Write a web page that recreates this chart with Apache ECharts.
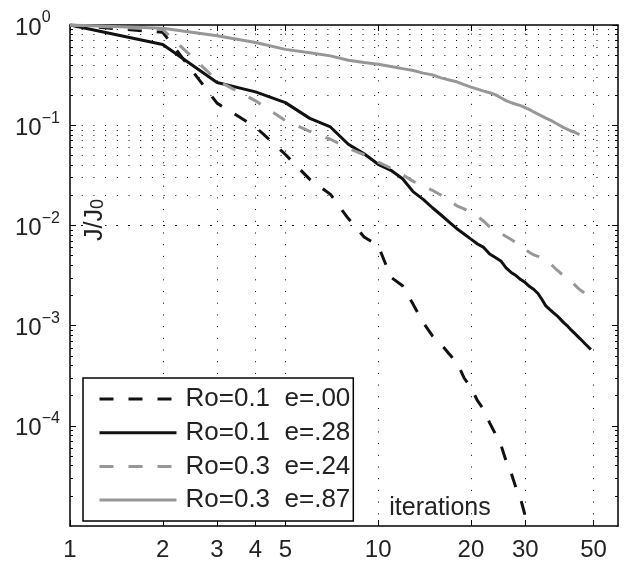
<!DOCTYPE html>
<html>
<head>
<meta charset="utf-8">
<script src="https://cdn.jsdelivr.net/npm/echarts@6/dist/echarts.min.js"></script>
<style>
  html, body { margin: 0; padding: 0; background: #fff; }
  #chart { width: 624px; height: 564px; }
</style>
</head>
<body>
<div id="chart"></div>
<script>
const xTicks = [1, 2, 3, 4, 5, 10, 20, 30, 50]
const yTicks = [1e-4, 1e-3, 1e-2, 1e-1, 1]
const legendNames = ['Ro=0.1  e=.00', 'Ro=0.1  e=.28', 'Ro=0.3  e=.24', 'Ro=0.3  e=.87']

// J/J0 at iteration 1, 2, 3, ...
const ro01e00 = [1.0, 0.845, 0.166, 0.096, 0.051, 0.0288, 0.0204, 0.0117, 0.00767, 0.0063,
  0.00304, 0.0025, 0.00162, 0.00107, 0.00079, 0.00065, 0.00052, 0.00043, 0.0003, 0.00024,
  0.000178, 0.000145, 0.000107, 0.000083, 0.000065, 0.0000447, 0.0000339, 0.000024, 0.0000186, 0.0000126,
  0.0000093]
const ro01e28 = [1.0, 0.64, 0.267, 0.215, 0.168, 0.117, 0.096, 0.0645, 0.0519, 0.0407,
  0.0355, 0.0292, 0.0216, 0.0182, 0.015, 0.0127, 0.0108, 0.00927, 0.00822, 0.0073,
  0.00653, 0.00603, 0.00519, 0.00479, 0.00442, 0.00376, 0.00339, 0.00316, 0.00288, 0.00269,
  0.00245, 0.00229, 0.00209, 0.00182, 0.00157, 0.00145, 0.00135, 0.00126, 0.00116, 0.00107,
  0.001, 0.000923, 0.000861, 0.000804, 0.00075, 0.000702, 0.000656, 0.000615, 0.000577]
const ro03e24 = [1.0, 0.9, 0.28, 0.175, 0.111, 0.087, 0.0724, 0.0589, 0.0507, 0.0427,
  0.0372, 0.032, 0.0275, 0.0245, 0.0224, 0.02, 0.0176, 0.0157, 0.0146, 0.0135,
  0.0123, 0.011, 0.00966, 0.0089, 0.0083, 0.00776, 0.00724, 0.00676, 0.0063, 0.00575,
  0.00537, 0.00507, 0.0049, 0.00473, 0.00452, 0.00422, 0.00389, 0.00359, 0.00335, 0.00316,
  0.00299, 0.00282, 0.00263, 0.00245, 0.00229, 0.00219, 0.00207]
const ro03e87 = [1.0, 0.927, 0.78, 0.67, 0.571, 0.528, 0.492, 0.445, 0.422, 0.406,
  0.386, 0.367, 0.351, 0.331, 0.318, 0.297, 0.283, 0.271, 0.254, 0.24,
  0.229, 0.219, 0.211, 0.202, 0.188, 0.176, 0.168, 0.162, 0.157, 0.15,
  0.143, 0.1355, 0.129, 0.123, 0.1175, 0.113, 0.1084, 0.1035, 0.0989, 0.0944,
  0.0912, 0.0881, 0.0861, 0.0832, 0.0807]

const FONT = '"Liberation Sans", Arial, sans-serif'
const TXT = '#222'
const BLACK = '#111'
const GRAY = '#979797'
const DASH = [14, 15]
const DOT = [1, 10.7]

// minor decades 2..9 for the grid and minor ticks
const yMinor = []
for (let k = -5; k < 0; k++) {
  for (let m = 2; m <= 9; m++) yMinor.push(m * Math.pow(10, k))
}

function pairs(vals) {
  return vals.map((v, i) => [i + 1, v])
}

function expLabel(v) {
  const e = Math.round(Math.log10(v))
  return '{b|10}{s|' + (e < 0 ? '\u2212' + (-e) : e) + '}'
}

function logX(extra) {
  return Object.assign({ type: 'log', logBase: 10, min: 1, max: 60, splitLine: { show: false } }, extra)
}
function logY(extra) {
  return Object.assign({ type: 'log', logBase: 10, min: 1e-5, max: 1, splitLine: { show: false } }, extra)
}

const axisLine = { show: true, lineStyle: { color: '#000', width: 1.5 } }
const tick = (vals, len) => ({ show: true, inside: true, length: len, customValues: vals, lineStyle: { color: '#000', width: 1 } })

function lineSeries(name, vals, color, type) {
  return {
    name, type: 'line', data: pairs(vals), symbol: 'none', showSymbol: false, z: 3,
    itemStyle: { color },
    lineStyle: { color, width: 3, type }
  }
}

const chart = echarts.init(document.getElementById('chart'), null, { renderer: 'canvas' })
chart.setOption({
  animation: false,
  backgroundColor: '#fff',
  grid: { left: 70, top: 25, right: 6, bottom: 38 },
  xAxis: [
    logX({
      position: 'bottom', axisLine, axisTick: tick(xTicks, 6),
      axisLabel: { customValues: xTicks, margin: 12, fontSize: 24, fontFamily: FONT, color: TXT }
    }),
    logX({ position: 'top', axisLine, axisTick: tick(xTicks, 6), axisLabel: { show: false } })
  ],
  yAxis: [
    logY({
      position: 'left', axisLine, axisTick: tick(yTicks, 6),
      axisLabel: {
        customValues: yTicks, align: 'left', margin: 55, formatter: expLabel,
        rich: {
          b: { fontSize: 24, lineHeight: 30, verticalAlign: 'bottom', fontFamily: FONT, color: TXT },
          s: { fontSize: 16, lineHeight: 16, verticalAlign: 'top', fontFamily: FONT, color: TXT }
        }
      }
    }),
    logY({ position: 'left', axisLine: { show: false }, axisTick: tick(yMinor, 3), axisLabel: { show: false } }),
    logY({ position: 'right', axisLine, axisTick: tick(yTicks, 6), axisLabel: { show: false } }),
    logY({ position: 'right', axisLine: { show: false }, axisTick: tick(yMinor, 3), axisLabel: { show: false } })
  ],
  legend: {
    data: legendNames, orient: 'vertical', left: 83, top: 378,
    itemWidth: 77, itemHeight: 14, itemGap: 7.7,
    padding: [8, 3, 8, 15],
    backgroundColor: '#fff', borderColor: '#000', borderWidth: 1.5, borderRadius: 0,
    selectedMode: false,
    itemStyle: { opacity: 0 },
    lineStyle: { width: 3 },
    textStyle: { fontFamily: FONT, fontSize: 26, lineHeight: 24, color: TXT, padding: [0, 0, 0, 4] }
  },
  graphic: [
    {
      type: 'text', x: 440, y: 508, z: 10,
      style: { text: 'iterations', fontSize: 25, fontFamily: FONT, fill: TXT, align: 'center', verticalAlign: 'middle' }
    },
    {
      type: 'text', x: 95, y: 220, rotation: Math.PI / 2, z: 10,
      style: {
        text: '{m|J/J}{s|0}', fill: TXT, align: 'center', verticalAlign: 'middle',
        rich: {
          m: { fontSize: 25, lineHeight: 24, verticalAlign: 'top', fontFamily: FONT, fill: TXT },
          s: { fontSize: 18, lineHeight: 14, verticalAlign: 'bottom', fontFamily: FONT, fill: TXT }
        }
      }
    }
  ],
  series: [
    {
      name: 'grid', type: 'line', data: [], z: 1,
      markLine: {
        z: 1, silent: true, symbol: ['none', 'none'], label: { show: false }, animation: false,
        lineStyle: { color: '#000', width: 1, type: DOT },
        data: xTicks.slice(1).map(v => ({ xAxis: v }))
          .concat(yTicks.slice(0, -1).concat(yMinor).map(v => ({ yAxis: v })))
      }
    },
    lineSeries(legendNames[0], ro01e00, BLACK, DASH),
    lineSeries(legendNames[1], ro01e28, BLACK, 'solid'),
    lineSeries(legendNames[2], ro03e24, GRAY, DASH),
    lineSeries(legendNames[3], ro03e87, GRAY, 'solid')
  ]
})
</script>
</body>
</html>
